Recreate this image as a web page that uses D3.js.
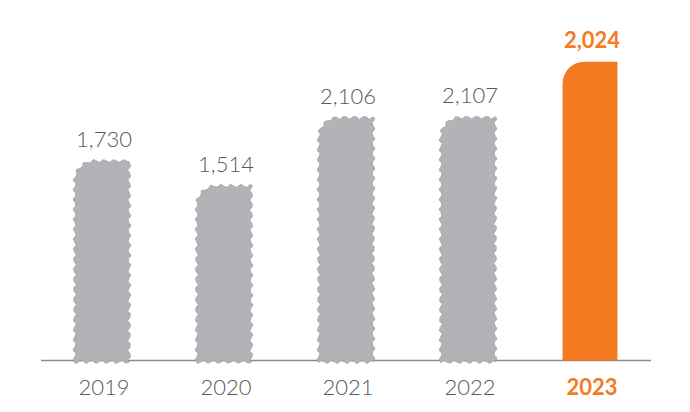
<!DOCTYPE html>
<html>
<head>
<meta charset="utf-8">
<script src="https://cdn.jsdelivr.net/npm/d3@7"></script>
<style>
  html, body { margin: 0; padding: 0; background: #ffffff; }
  svg { display: block; }
</style>
</head>
<body>
<svg id="chart" width="690" height="412"></svg>
<script>
// ---- data ----
const years = ["2019", "2020", "2021", "2022", "2023"];
const values = [1730, 1514, 2106, 2107, 2024];
// drawn bar heights in data units (2023 is drawn taller for emphasis in the original)
const barValues = [1730, 1514, 2106, 2107, 2590];
const highlight = [false, false, false, false, true];

// ---- layout ----
const baseY = 360.5;
const svg = d3.select("#chart");

const x = d3.scaleBand().domain(years).range([41, 651]).paddingInner(0.55).paddingOuter(0.275);
const y = d3.scaleLinear().domain([0, 2600]).range([baseY, 60.5]);

const gray = "#b2b3b6", grayStroke = "#949598", orange = "#f47b20", textGray = "#58595b";
const fmt = d3.format(",");

// wavy outline for a bar with rounded top-left corner
function wavyPath(x0, x1, yTop, yBot, r, amp, lambda) {
  const pts = [];
  const step = 0.5;
  let s = 0;
  function push(px, py, nx, ny) {
    const o = amp * Math.sin(2 * Math.PI * s / lambda);
    pts.push([px + nx * o, py + ny * o]);
    s += step;
  }
  for (let yy = yBot; yy > yTop + r; yy -= step) push(x0, yy, -1, 0);
  const cx = x0 + r, cy = yTop + r;
  const arcLen = Math.PI * r / 2;
  const n = Math.ceil(arcLen / step);
  for (let i = 0; i < n; i++) {
    const a = Math.PI + (Math.PI / 2) * (i / n);
    push(cx + r * Math.cos(a), cy + r * Math.sin(a), Math.cos(a), Math.sin(a));
  }
  for (let xx = x0 + r; xx < x1; xx += step) push(xx, yTop, 0, -1);
  for (let yy = yTop; yy < yBot; yy += step) push(x1, yy, 1, 0);
  for (let xx = x1; xx > x0; xx -= step) push(xx, yBot, 0, 1);
  return d3.line()(pts) + "Z";
}

function solidPath(x0, x1, yTop, yBot, r) {
  const p = d3.path();
  p.moveTo(x0, yBot);
  p.lineTo(x0, yTop + r);
  p.arcTo(x0, yTop, x0 + r, yTop, r);
  p.lineTo(x1, yTop);
  p.lineTo(x1, yBot);
  p.closePath();
  return p.toString();
}

// baseline
svg.append("line")
  .attr("x1", 41).attr("x2", 651)
  .attr("y1", baseY).attr("y2", baseY)
  .attr("stroke", "#8a8a8a").attr("stroke-width", 1.3);

const data = years.map((yr, i) => ({ yr, v: values[i], bv: barValues[i], hl: highlight[i] }));

const g = svg.append("g");
data.forEach(d => {
  const x0 = x(d.yr), x1 = x(d.yr) + x.bandwidth();
  const yt = y(d.bv);
  if (d.hl) {
    g.append("path")
      .attr("d", solidPath(x0, x1, yt, baseY, 22))
      .attr("fill", orange);
  } else {
    g.append("path")
      .attr("d", wavyPath(x0, x1, yt, baseY + 1.5, 20, 1.2, 10))
      .attr("fill", gray)
      .attr("stroke", grayStroke)
      .attr("stroke-width", 0.8)
      .attr("stroke-dasharray", "4,1.5");
  }
});

// value labels
svg.append("g").selectAll("text").data(data).join("text")
  .attr("x", d => x(d.yr) + x.bandwidth() / 2 + 2)
  .attr("y", d => y(d.bv) - 14)
  .attr("text-anchor", "middle")
  .attr("font-family", "Lato, 'Open Sans', sans-serif")
  .attr("font-size", 22)
  .attr("font-weight", d => d.hl ? 700 : 300)
  .attr("fill", d => d.hl ? orange : textGray)
  .text(d => fmt(d.v));

// year labels
svg.append("g").selectAll("text").data(data).join("text")
  .attr("x", d => x(d.yr) + x.bandwidth() / 2 + 2)
  .attr("y", 395)
  .attr("text-anchor", "middle")
  .attr("font-family", "Lato, 'Open Sans', sans-serif")
  .attr("font-size", 22)
  .attr("font-weight", d => d.hl ? 700 : 300)
  .attr("fill", d => d.hl ? orange : textGray)
  .text(d => d.yr);
</script>
</body>
</html>
